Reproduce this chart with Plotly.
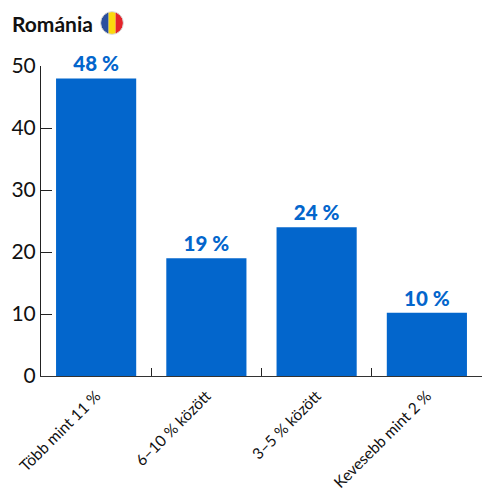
import base64
import plotly.graph_objects as go

categories = ["Több mint 11 %", "6–10 % között", "3–5 % között", "Kevesebb mint 2 %"]
values = [48, 19, 24, 10.2]
value_labels = ["48 %", "19 %", "24 %", "10 %"]
y_ticks = [0, 10, 20, 30, 40, 50]
title = "Románia"

W, H = 482, 490
BLUE = "#0366CC"
FONT = "Lato, sans-serif"

flag_svg = (
    '<svg xmlns="http://www.w3.org/2000/svg" width="24" height="24" viewBox="0 0 24 24">'
    '<defs><clipPath id="c"><circle cx="12" cy="12" r="11.2"/></clipPath></defs>'
    '<g clip-path="url(#c)"><rect width="8.6" height="24" fill="#2B4F9E"/>'
    '<rect x="8.6" width="7" height="24" fill="#FBD80D"/>'
    '<rect x="15.6" width="8.4" height="24" fill="#E4232A"/></g>'
    '<circle cx="12" cy="12" r="11.4" fill="none" stroke="#D8D8D8" stroke-width="1"/></svg>'
)
flag_uri = "data:image/svg+xml;base64," + base64.b64encode(flag_svg.encode()).decode()

fig = go.Figure(
    go.Bar(
        x=categories,
        y=values,
        marker=dict(color=BLUE, line=dict(width=0)),
        text=value_labels,
        textposition="outside",
        cliponaxis=False,
        textfont=dict(family=FONT, size=20.5, color=BLUE, weight=900),
        hoverinfo="skip",
    )
)
fig.update_layout(
    width=W,
    height=H,
    margin=dict(l=41, r=0, t=66, b=114, pad=0),
    paper_bgcolor="white",
    plot_bgcolor="white",
    bargap=0.273,
    showlegend=False,
    font=dict(family=FONT, color="#111111"),
    annotations=[
        dict(
            text="<b>" + title + "</b>",
            xref="paper", yref="paper",
            x=-41 / 441, y=(376 - 23.5) / 310,
            xanchor="left", yanchor="middle",
            xshift=10,
            showarrow=False,
            font=dict(family=FONT, size=21, color="#111111"),
        )
    ],
    images=[
        dict(
            source=flag_uri,
            xref="paper", yref="paper",
            x=(100 - 41) / 441, y=(376 - 11) / 310,
            sizex=24 / 441, sizey=24 / 310,
            xanchor="left", yanchor="top",
            sizing="stretch", layer="above",
        )
    ],
)
fig.update_xaxes(
    type="category",
    automargin=False,
    tickson="boundaries",
    ticks="inside",
    ticklen=8,
    tickwidth=1,
    tickcolor="#222222",
    showline=True,
    linecolor="#333333",
    linewidth=1,
    showgrid=False,
    zeroline=False,
    tickangle=-45,
    ticklabelstandoff=4,
    tickfont=dict(family=FONT, size=15.5, color="#111111"),
)
fig.update_yaxes(
    automargin=False,
    range=[0, 50],
    tickvals=y_ticks,
    ticks="inside",
    ticklen=11,
    tickwidth=1,
    tickcolor="#222222",
    showline=True,
    linecolor="#222222",
    linewidth=1,
    showgrid=False,
    zeroline=False,
    tickfont=dict(family=FONT, size=21, color="#111111"),
)
fig.write_html(
    "out.html",
    config={"displayModeBar": False},
    post_script="document.body.style.margin='0';",
)
